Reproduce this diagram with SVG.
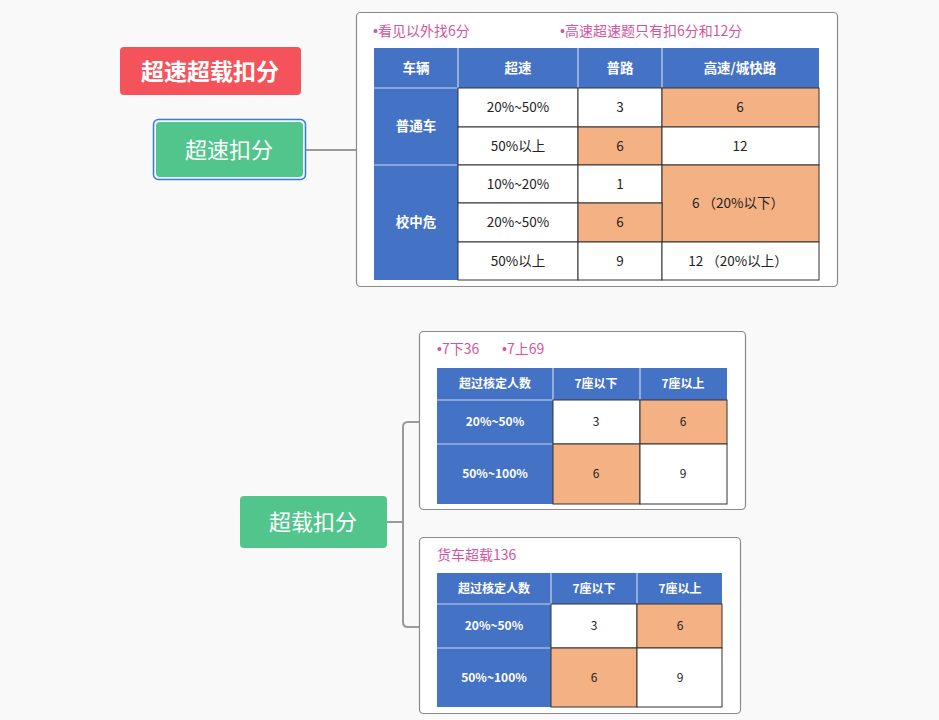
<svg xmlns="http://www.w3.org/2000/svg" width="939" height="720" viewBox="0 0 939 720">
<style>
.card{fill:#ffffff;stroke:#8a8a8a;stroke-width:1.2}
.hd{fill:#4472c4}
.w{fill:#ffffff;stroke:#333333;stroke-width:1}
.o{fill:#f4b183;stroke:#333333;stroke-width:1}
.sep{stroke:#c9d6f0;stroke-width:1.2}
.ht{font-family:"Noto Sans CJK SC","Liberation Sans",sans-serif;font-size:13.5px;font-weight:bold;fill:#ffffff;text-anchor:middle}
.ct{font-family:"Noto Sans CJK SC","Liberation Sans",sans-serif;font-size:13.5px;fill:#222222;text-anchor:middle}
.bt{font-family:"Noto Sans CJK SC","Liberation Sans",sans-serif;font-size:12px;font-weight:bold;fill:#ffffff;text-anchor:middle}
.bc{font-family:"Noto Sans CJK SC","Liberation Sans",sans-serif;font-size:12px;fill:#222222;text-anchor:middle}
.pk{font-family:"Noto Sans CJK SC","Liberation Sans",sans-serif;font-size:14px;fill:#d4549e}
.bu{font-family:"Liberation Sans",sans-serif}
.nt{font-family:"Noto Sans CJK SC","Liberation Sans",sans-serif;font-size:22px;fill:#ffffff;text-anchor:middle}
.conn{fill:none;stroke:#9a9a9a;stroke-width:2}
</style>
<rect width="939" height="720" fill="#f9f9f9"/>

<g id="connectors">
<path class="conn" d="M306,150 H356"/>
<path class="conn" d="M387,522 H403"/>
<path class="conn" d="M419,422 H408 Q403,422 403,427 V622 Q403,627 408,627 H419"/>
</g>

<g id="title">
<rect x="120" y="47" width="181" height="48" rx="4" fill="#f5535b"/>
<text x="210" y="80" class="nt" style="font-weight:bold;font-size:23px">超速超载扣分</text>
</g>

<g id="speed-node">
<rect x="153.5" y="119.5" width="152" height="60" rx="5" fill="none" stroke="#2f7fd9" stroke-width="1.5"/>
<rect x="156" y="122" width="147" height="55" rx="4" fill="#52c58c"/>
<text x="229" y="158" class="nt">超速扣分</text>
</g>

<g id="overload-node">
<rect x="240" y="496" width="147" height="52" rx="4" fill="#52c58c"/>
<text x="313" y="530" class="nt">超载扣分</text>
</g>

<g id="speed-table">
<rect class="card" x="356.5" y="12.5" width="481" height="274" rx="4"/>
<text x="373" y="36" class="pk"><tspan class="bu">•</tspan>看见以外找6分</text>
<text x="560" y="36" class="pk"><tspan class="bu">•</tspan>高速超速题只有扣6分和12分</text>
<rect class="hd" x="374" y="48" width="445" height="40"/>
<rect class="hd" x="374" y="88" width="84" height="192"/>
<line class="sep" x1="458" y1="48" x2="458" y2="88"/>
<line class="sep" x1="578" y1="48" x2="578" y2="88"/>
<line class="sep" x1="662" y1="48" x2="662" y2="88"/>
<line class="sep" x1="374" y1="88" x2="458" y2="88"/>
<line class="sep" x1="374" y1="165" x2="458" y2="165"/>
<text x="416" y="73" class="ht">车辆</text>
<text x="518" y="73" class="ht">超速</text>
<text x="620" y="73" class="ht">普路</text>
<text x="740" y="73" class="ht">高速/城快路</text>
<text x="416" y="131" class="ht">普通车</text>
<text x="416" y="227" class="ht">校中危</text>
<rect class="w" x="458" y="88" width="120" height="39"/>
<rect class="w" x="578" y="88" width="84" height="39"/>
<rect class="o" x="662" y="88" width="157" height="39"/>
<rect class="w" x="458" y="127" width="120" height="38"/>
<rect class="o" x="578" y="127" width="84" height="38"/>
<rect class="w" x="662" y="127" width="157" height="38"/>
<rect class="w" x="458" y="165" width="120" height="38"/>
<rect class="w" x="578" y="165" width="84" height="38"/>
<rect class="o" x="662" y="165" width="157" height="77"/>
<rect class="w" x="458" y="203" width="120" height="39"/>
<rect class="o" x="578" y="203" width="84" height="39"/>
<rect class="w" x="458" y="242" width="120" height="38"/>
<rect class="w" x="578" y="242" width="84" height="38"/>
<rect class="w" x="662" y="242" width="157" height="38"/>
<text x="518" y="112" class="ct">20%~50%</text>
<text x="620" y="112" class="ct">3</text>
<text x="740" y="112" class="ct">6</text>
<text x="518" y="151" class="ct">50%以上</text>
<text x="620" y="151" class="ct">6</text>
<text x="740" y="151" class="ct">12</text>
<text x="518" y="189" class="ct">10%~20%</text>
<text x="620" y="189" class="ct">1</text>
<text x="738" y="208" class="ct">6 （20%以下）</text>
<text x="518" y="227" class="ct">20%~50%</text>
<text x="620" y="227" class="ct">6</text>
<text x="518" y="266" class="ct">50%以上</text>
<text x="620" y="266" class="ct">9</text>
<text x="738" y="266" class="ct">12 （20%以上）</text>
</g>

<g id="overload-table-1">
<rect class="card" x="419.5" y="331.5" width="326" height="178" rx="4"/>
<text x="437" y="354" class="pk"><tspan class="bu">•</tspan>7下36</text>
<text x="502" y="354" class="pk"><tspan class="bu">•</tspan>7上69</text>
<rect class="hd" x="437" y="368" width="290" height="32"/>
<rect class="hd" x="437" y="400" width="116" height="104"/>
<line class="sep" x1="553" y1="368" x2="553" y2="400"/>
<line class="sep" x1="640" y1="368" x2="640" y2="400"/>
<line class="sep" x1="437" y1="400" x2="553" y2="400"/>
<line class="sep" x1="437" y1="444" x2="553" y2="444"/>
<text x="495" y="388" class="bt">超过核定人数</text>
<text x="596" y="388" class="bt">7座以下</text>
<text x="683" y="388" class="bt">7座以上</text>
<text x="495" y="426" class="bt">20%~50%</text>
<text x="495" y="478" class="bt">50%~100%</text>
<rect class="w" x="553" y="400" width="87" height="44"/>
<rect class="o" x="640" y="400" width="87" height="44"/>
<rect class="o" x="553" y="444" width="87" height="60"/>
<rect class="w" x="640" y="444" width="87" height="60"/>
<text x="596" y="426" class="bc">3</text>
<text x="683" y="426" class="bc">6</text>
<text x="596" y="478" class="bc">6</text>
<text x="683" y="478" class="bc">9</text>
</g>

<g id="overload-table-2">
<rect class="card" x="419.5" y="537.5" width="321" height="176" rx="4"/>
<text x="437" y="560" class="pk">货车超载136</text>
<rect class="hd" x="437" y="573" width="285" height="31"/>
<rect class="hd" x="437" y="604" width="114" height="103"/>
<line class="sep" x1="551" y1="573" x2="551" y2="604"/>
<line class="sep" x1="637" y1="573" x2="637" y2="604"/>
<line class="sep" x1="437" y1="604" x2="551" y2="604"/>
<line class="sep" x1="437" y1="648" x2="551" y2="648"/>
<text x="494" y="593" class="bt">超过核定人数</text>
<text x="594" y="593" class="bt">7座以下</text>
<text x="680" y="593" class="bt">7座以上</text>
<text x="494" y="630" class="bt">20%~50%</text>
<text x="494" y="682" class="bt">50%~100%</text>
<rect class="w" x="551" y="604" width="86" height="44"/>
<rect class="o" x="637" y="604" width="85" height="44"/>
<rect class="o" x="551" y="648" width="86" height="59"/>
<rect class="w" x="637" y="648" width="85" height="59"/>
<text x="594" y="630" class="bc">3</text>
<text x="680" y="630" class="bc">6</text>
<text x="594" y="682" class="bc">6</text>
<text x="680" y="682" class="bc">9</text>
</g>
</svg>
